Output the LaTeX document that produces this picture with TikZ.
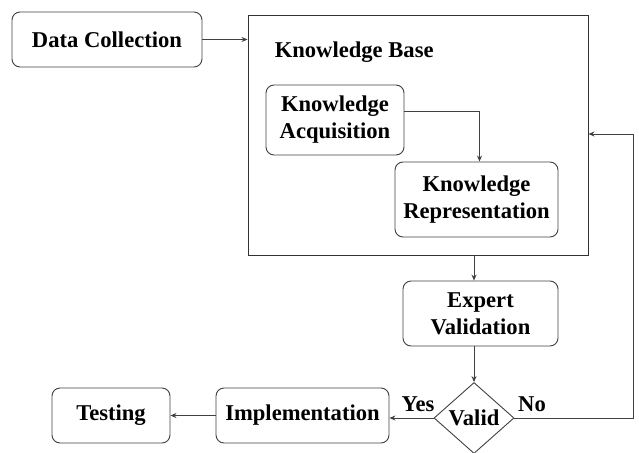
\documentclass[tikz,border=0pt]{standalone}
\usepackage{fontspec}
\setmainfont{Liberation Serif}
\usetikzlibrary{arrows.meta,shapes.geometric}

\begin{document}
\begin{tikzpicture}[
        x=1pt, y=-1pt,
        font=\fontsize{22.6}{27}\selectfont\bfseries,
        line width=0.9pt,
        round box/.style={draw=black!75, rounded corners=8pt, align=center, inner sep=0pt},
        base box/.style={draw=black!80, inner sep=0pt},
        decision/.style={draw=black!75, diamond, inner sep=0pt, minimum width=80pt, minimum height=71pt},
        flow/.style={draw=black!75, -{Stealth[length=6pt,width=5pt]}},
    ]

    \useasboundingbox (0,0) rectangle (639,452);

    % Khung lớn chứa cơ sở tri thức
    \node[base box, minimum width=340pt, minimum height=240pt] (kbase) at (418,135) {};
    \node[anchor=west] (kbtitle) at (271,52) {Knowledge Base};

    % Các bước trong quy trình
    \node[round box, minimum width=190pt, minimum height=55pt] (datacoll) at (107,39.5) {Data Collection};
    \node[round box, minimum width=138pt, minimum height=70pt] (kacq) at (335,120) {Knowledge\\Acquisition};
    \node[round box, minimum width=163pt, minimum height=75pt] (krep) at (476.5,199.5) {Knowledge\\Representation};
    \node[round box, minimum width=155pt, minimum height=65pt] (expval) at (480.5,313.5) {Expert\\Validation};
    \node[decision] (valid) at (474,418) {Valid};
    \node[round box, minimum width=173pt, minimum height=55pt] (impl) at (302.5,415.5) {Implementation};
    \node[round box, minimum width=118pt, minimum height=55pt] (testing) at (111,415.5) {Testing};

    % Nhãn nhánh
    \node (yeslbl) at (418,404) {Yes};
    \node (nolbl) at (532,404) {No};

    % Điểm gấp của vòng lặp
    \coordinate (loopc) at (633,134);

    % Các mũi tên
    \draw[flow] (datacoll.east) -- (datacoll.east -| kbase.west);
    \draw[flow] ([yshift=9pt]kacq.east) -| ([xshift=3pt]krep.north);
    \draw[flow] (kbase.south -| valid.north) -- (expval.north -| valid.north);
    \draw[flow] (expval.south -| valid.north) -- (valid.north);
    \draw[flow] (valid.west) -- (valid.west -| impl.east);
    \draw[flow] (impl.west) -- (impl.west -| testing.east);
    \draw[flow] (valid.east) -| (loopc) -- (loopc -| kbase.east);

\end{tikzpicture}
\end{document}
